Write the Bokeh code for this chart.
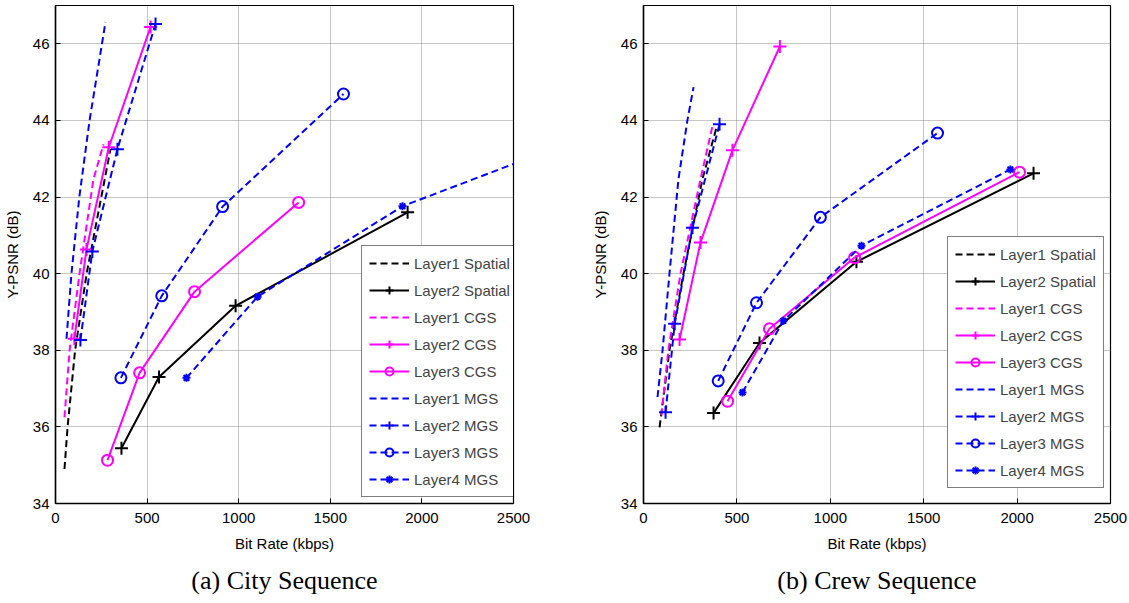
from bokeh.plotting import figure
from bokeh.layouts import row
from bokeh.models import Legend, LegendItem, Range1d, FixedTicker, Title
from bokeh.embed import file_html
from bokeh.resources import INLINE

# ---------------- data: (a) City ----------------
city_l1_sp_x = [49, 66, 107, 170, 300]
city_l1_sp_y = [34.9, 36.0, 38.0, 40.0, 43.25]
city_l2_sp_x = [360, 565, 983, 1922]
city_l2_sp_y = [35.44, 37.3, 39.16, 41.6]
city_l1_cgs_x = [49, 77, 131, 207, 262]
city_l1_cgs_y = [36.25, 38.0, 40.0, 42.46, 43.38]
city_l2_cgs_x = [103, 169, 291, 519]
city_l2_cgs_y = [38.3, 40.63, 43.3, 46.44]
city_l3_cgs_x = [284, 459, 759, 1327]
city_l3_cgs_y = [35.13, 37.41, 39.53, 41.86]
city_l1_mgs_x = [60, 87, 130, 186, 273]
city_l1_mgs_y = [38.3, 40.0, 42.0, 44.0, 46.57]
city_l2_mgs_x = [136, 201, 338, 546]
city_l2_mgs_y = [38.27, 40.58, 43.25, 46.52]
city_l3_mgs_x = [357, 580, 912, 1572]
city_l3_mgs_y = [37.28, 39.42, 41.75, 44.69]
city_l4_mgs_x = [715, 1103, 1894, 2520]
city_l4_mgs_y = [37.28, 39.4, 41.76, 42.9]

# ---------------- data: (b) Crew ----------------
crew_l1_sp_x = [86, 139, 214, 315, 391]
crew_l1_sp_y = [35.99, 38.0, 40.0, 42.46, 43.82]
crew_l2_sp_x = [375, 621, 1140, 2088]
crew_l2_sp_y = [36.36, 38.19, 40.31, 42.62]
crew_l1_cgs_x = [96, 133, 198, 305, 369]
crew_l1_cgs_y = [36.3, 38.0, 40.0, 42.46, 43.85]
crew_l2_cgs_x = [193, 305, 476, 730]
crew_l2_cgs_y = [38.28, 40.81, 43.22, 45.93]
crew_l3_cgs_x = [450, 674, 1130, 2013]
crew_l3_cgs_y = [36.67, 38.56, 40.42, 42.65]
crew_l1_mgs_x = [75, 102, 139, 187, 235, 268]
crew_l1_mgs_y = [36.78, 38.0, 40.0, 42.46, 44.0, 44.87]
crew_l2_mgs_x = [118, 167, 262, 407]
crew_l2_mgs_y = [36.38, 38.69, 41.2, 43.9]
crew_l3_mgs_x = [400, 605, 947, 1574]
crew_l3_mgs_y = [37.2, 39.24, 41.47, 43.67]
crew_l4_mgs_x = [530, 749, 1167, 1964]
crew_l4_mgs_y = [36.9, 38.77, 40.73, 42.72]

x_ticks = [0, 500, 1000, 1500, 2000, 2500]
y_ticks = [34, 36, 38, 40, 42, 44, 46]

legend_labels = ["Layer1 Spatial", "Layer2 Spatial", "Layer1 CGS", "Layer2 CGS",
                 "Layer3 CGS", "Layer1 MGS", "Layer2 MGS", "Layer3 MGS", "Layer4 MGS"]

SANS = "Liberation Sans"
SERIF = "Liberation Serif"
BLUE = "#0000ff"
MAG = "#ff00ff"
BLK = "#000000"
DASH = "7 4"


def make_plot(series, caption, width, bl, br, leg_loc, cap_offset):
    p = figure(width=width, height=603, x_range=Range1d(0, 2500), y_range=Range1d(34, 47),
               output_backend="svg", toolbar_location=None,
               min_border_left=bl, min_border_right=br, min_border_top=5, min_border_bottom=100)
    p.outline_line_color = "black"
    p.outline_line_width = 1.2
    p.background_fill_color = "white"
    p.border_fill_color = "white"
    for ax, ticks in ((p.xaxis[0], x_ticks), (p.yaxis[0], y_ticks)):
        ax.ticker = FixedTicker(ticks=ticks)
        ax.major_tick_in = 5
        ax.major_tick_out = 0
        ax.minor_tick_in = 0
        ax.minor_tick_out = 0
        ax.axis_line_width = 1.5
        ax.major_label_text_font = SANS
        ax.major_label_text_font_size = "15px"
        ax.major_label_text_color = "black"
        ax.axis_label_text_font = SANS
        ax.axis_label_text_font_size = "15px"
        ax.axis_label_text_font_style = "normal"
        ax.axis_label_text_color = "black"
    p.xaxis.major_label_standoff = 9
    p.yaxis.major_label_standoff = 6
    p.xaxis.axis_label = "Bit Rate (kbps)"
    p.yaxis.axis_label = "Y-PSNR (dB)"
    p.xaxis.axis_label_standoff = 9
    p.yaxis.axis_label_standoff = 9
    p.grid.grid_line_color = "#8c8c8c"
    p.grid.grid_line_width = 1
    p.grid.grid_line_dash = "1 1"

    items = []
    for label, (xs, ys, color, dash, marker) in zip(legend_labels, series):
        rends = [p.line(xs, ys, line_color=color, line_width=2, line_dash=dash)]
        if marker is not None:
            size = {"cross": 13, "circle": 11, "asterisk": 8}[marker]
            rends.append(p.scatter(xs, ys, marker=marker, size=size, line_color=color,
                                   fill_color=None, line_width=2))
        items.append(LegendItem(label=label, renderers=rends))
    leg = Legend(items=items, location=leg_loc, glyph_width=40, glyph_height=20,
                 label_height=20, spacing=7, padding=7, margin=0,
                 label_text_font=SANS, label_text_font_size="15px", label_standoff=5,
                 border_line_color="black", border_line_width=1.2,
                 background_fill_alpha=1.0)
    p.add_layout(leg, "center")
    t = Title(text=caption, align="center", text_font=SERIF, text_font_size="26px",
              text_font_style="normal", text_color="black", standoff=18, offset=cap_offset)
    p.add_layout(t, "below")
    return p


city = [
    (city_l1_sp_x, city_l1_sp_y, BLK, DASH, None),
    (city_l2_sp_x, city_l2_sp_y, BLK, "solid", "cross"),
    (city_l1_cgs_x, city_l1_cgs_y, MAG, DASH, None),
    (city_l2_cgs_x, city_l2_cgs_y, MAG, "solid", "cross"),
    (city_l3_cgs_x, city_l3_cgs_y, MAG, "solid", "circle"),
    (city_l1_mgs_x, city_l1_mgs_y, BLUE, DASH, None),
    (city_l2_mgs_x, city_l2_mgs_y, BLUE, DASH, "cross"),
    (city_l3_mgs_x, city_l3_mgs_y, BLUE, DASH, "circle"),
    (city_l4_mgs_x, city_l4_mgs_y, BLUE, DASH, "asterisk"),
]
crew = [
    (crew_l1_sp_x, crew_l1_sp_y, BLK, DASH, None),
    (crew_l2_sp_x, crew_l2_sp_y, BLK, "solid", "cross"),
    (crew_l1_cgs_x, crew_l1_cgs_y, MAG, DASH, None),
    (crew_l2_cgs_x, crew_l2_cgs_y, MAG, "solid", "cross"),
    (crew_l3_cgs_x, crew_l3_cgs_y, MAG, "solid", "circle"),
    (crew_l1_mgs_x, crew_l1_mgs_y, BLUE, DASH, None),
    (crew_l2_mgs_x, crew_l2_mgs_y, BLUE, DASH, "cross"),
    (crew_l3_mgs_x, crew_l3_mgs_y, BLUE, DASH, "circle"),
    (crew_l4_mgs_x, crew_l4_mgs_y, BLUE, DASH, "asterisk"),
]

p1 = make_plot(city, "(a) City Sequence", 553, 55, 40, (306, 6), -11)
p2 = make_plot(crew, "(b) Crew Sequence", 576, 90, 19, (304, 15), 0)

layout = row(p1, p2, spacing=0)
open("out.html", "w").write(file_html(layout, INLINE))
